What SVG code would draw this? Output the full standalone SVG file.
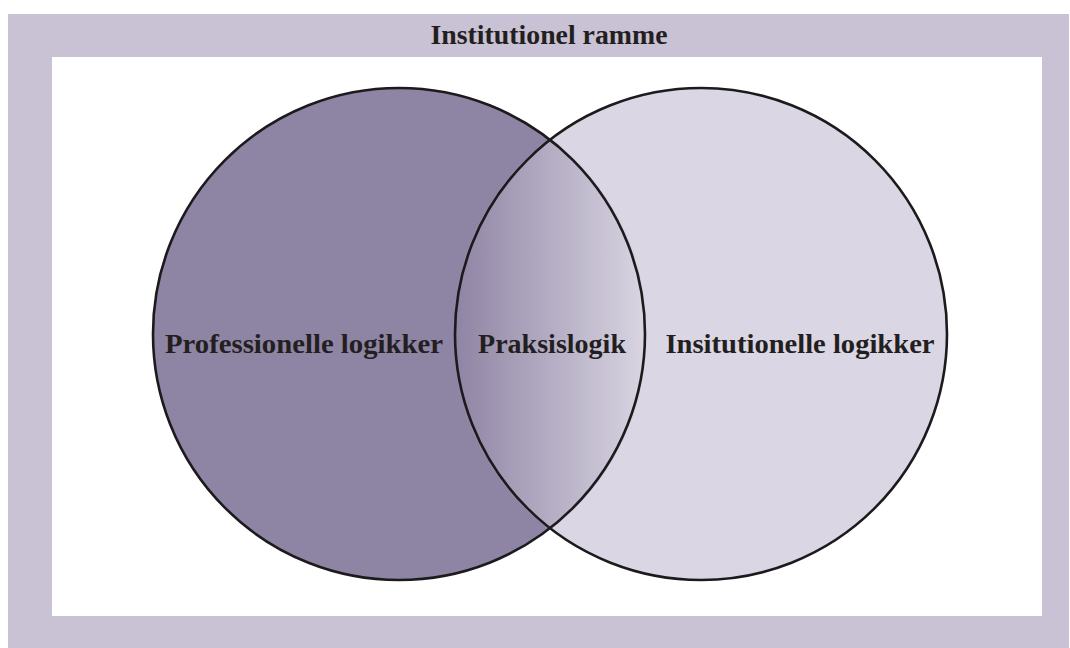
<svg xmlns="http://www.w3.org/2000/svg" width="1070" height="648" viewBox="0 0 1070 648">
  <defs>
    <linearGradient id="lensGrad" gradientUnits="userSpaceOnUse" x1="455" y1="0" x2="645" y2="0">
      <stop offset="0" stop-color="#8f84a4"/>
      <stop offset="1" stop-color="#d9d5e2"/>
    </linearGradient>
    <style>
      .lbl { font-family: "Liberation Serif", "DejaVu Serif", serif; font-weight: bold; font-size: 28px; fill: #231f20; text-anchor: middle; }
      .outline { fill: none; stroke: #1c1a1c; stroke-width: 2.6; }
    </style>
  </defs>
  <rect x="0" y="0" width="1070" height="648" fill="#ffffff"/>
  <g id="frame">
    <rect x="8" y="14" width="1061" height="634" fill="#c9c1d4"/>
    <rect x="52" y="57" width="990" height="559" fill="#ffffff"/>
    <text class="lbl" x="549" y="44" textLength="237" lengthAdjust="spacingAndGlyphs">Institutionel ramme</text>
  </g>
  <g id="professionelle">
    <circle cx="399" cy="334" r="246" fill="#8e84a4"/>
  </g>
  <g id="institutionelle">
    <circle cx="701" cy="334" r="246" fill="#dad6e3"/>
  </g>
  <g id="praksislogik">
    <path d="M550,138 A246,246 0 0 1 550,530 A246,246 0 0 1 550,138 Z" fill="url(#lensGrad)"/>
  </g>
  <g id="outlines">
    <circle class="outline" cx="399" cy="334" r="246"/>
    <circle class="outline" cx="701" cy="334" r="246"/>
  </g>
  <g id="labels">
    <text class="lbl" x="304" y="353" textLength="278" lengthAdjust="spacingAndGlyphs">Professionelle logikker</text>
    <text class="lbl" x="552" y="353" textLength="148" lengthAdjust="spacingAndGlyphs">Praksislogik</text>
    <text class="lbl" x="800" y="353" textLength="269" lengthAdjust="spacingAndGlyphs">Insitutionelle logikker</text>
  </g>
</svg>
